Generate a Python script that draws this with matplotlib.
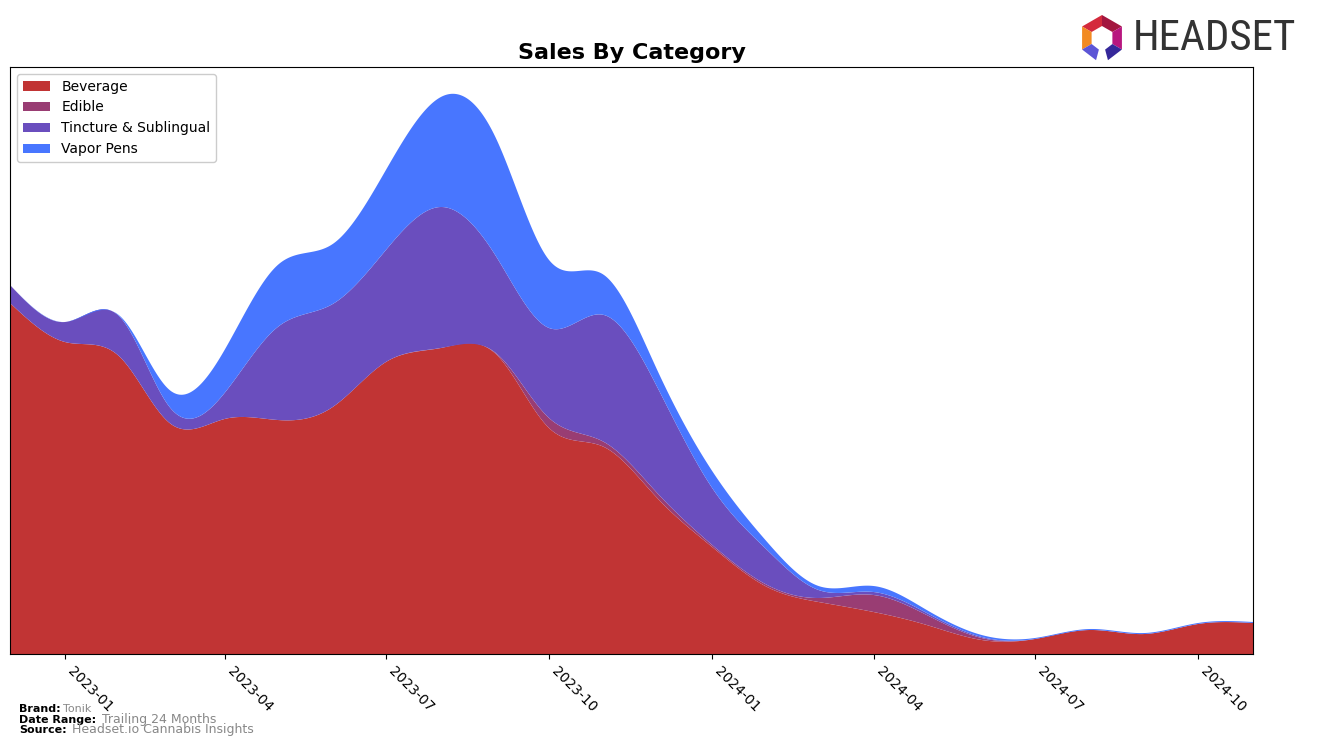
import numpy as np
import pandas as pd
import matplotlib
matplotlib.use("Agg")
import matplotlib.pyplot as plt
import matplotlib.dates as mdates
from matplotlib.patches import Polygon

# ---------------- data (monthly) ----------------
months = pd.date_range("2022-12-01", "2024-11-01", freq="MS")
categories = ["Beverage", "Edible", "Tincture & Sublingual", "Vapor Pens"]
beverage = [351, 312, 297, 231, 235, 234, 247, 292, 306, 300, 226, 207,
            156, 107, 67, 52, 42, 29, 14, 15, 24, 20, 30, 31]
edible = [0, 0, 0, 0, 0, 0, 0, 0, 0, 1, 10, 5,
          5, 2, 2, 4, 17, 10, 2, 0, 0, 0, 0, 0]
tincture = [18, 20, 40, 16, 26, 93, 103, 112, 141, 97, 90, 127,
            106, 57, 35, 8, 3, 2, 1, 0, 0, 0, 0, 0]
vapor = [0, 0, 1, 17, 43, 62, 60, 80, 110, 118, 68, 40,
         17, 17, 8, 4, 6, 3, 2, 1, 1, 1, 1, 1]
colors = ["#C13434", "#993D73", "#6A4EBE", "#4876FF"]
tick_dates = pd.date_range("2023-01-01", "2024-10-01", freq="3MS")


def natural_spline(x, y, xs):
    x = np.asarray(x, float)
    y = np.asarray(y, float)
    n = len(x)
    h = np.diff(x)
    A = np.zeros((n, n))
    b = np.zeros(n)
    A[0, 0] = 1
    A[-1, -1] = 1
    for i in range(1, n - 1):
        A[i, i - 1] = h[i - 1]
        A[i, i] = 2 * (h[i - 1] + h[i])
        A[i, i + 1] = h[i]
        b[i] = 3 * ((y[i + 1] - y[i]) / h[i] - (y[i] - y[i - 1]) / h[i - 1])
    c = np.linalg.solve(A, b)
    bb = np.zeros(n - 1)
    d = np.zeros(n - 1)
    for i in range(n - 1):
        bb[i] = (y[i + 1] - y[i]) / h[i] - h[i] * (2 * c[i] + c[i + 1]) / 3
        d[i] = (c[i + 1] - c[i]) / (3 * h[i])
    idx = np.clip(np.searchsorted(x, xs) - 1, 0, n - 2)
    dx = xs - x[idx]
    return y[idx] + bb[idx] * dx + c[idx] * dx ** 2 + d[idx] * dx ** 3


xnum = mdates.date2num(months.to_pydatetime())
xs = np.linspace(xnum[0], xnum[-1], 800)
series = [beverage, edible, tincture, vapor]
smooth = [natural_spline(xnum, s, xs) for s in series]

W, H = 1317, 747
fig = plt.figure(figsize=(W / 100, H / 100), dpi=100)
ax = fig.add_axes([10 / W, 1 - 654 / H, (1253 - 10) / W, (654 - 67) / H])

ax.stackplot(xs, *smooth, labels=categories, colors=colors)
ax.set_xlim(xnum[0], xnum[-1])
ax.set_ylim(0, 587)
ax.set_yticks([])
ax.set_xticks(mdates.date2num(tick_dates.to_pydatetime()))
ax.set_xticklabels([d.strftime("%Y-%m") for d in tick_dates],
                   rotation=-45, ha="left", fontsize=10)
ax.set_title("Sales By Category", fontsize=16, fontweight="bold", pad=6)
ax.legend(loc="upper left", fontsize=10, framealpha=1, edgecolor="#cccccc")

# ---------------- footer ----------------
def ftext(x, y, s, **kw):
    fig.text(x / W, 1 - y / H, s, va="center", ha="left", **kw)

ftext(19, 709, "Brand:", fontsize=8, fontweight="bold")
ftext(63, 709, "Tonik", fontsize=8, color="#888888")
ftext(19, 720, "Date Range:", fontsize=8, fontweight="bold")
ftext(102, 719, "Trailing 24 Months", fontsize=9, color="#888888")
ftext(19, 730, "Source:", fontsize=8, fontweight="bold")
ftext(72, 730, "Headset.io Cannabis Insights", fontsize=9, color="#888888")

# ---------------- logo ----------------
cx, cy, R, r = 1102, 38, 23, 12


def pt(rad, ang):
    a = np.deg2rad(ang)
    return (cx + rad * np.cos(a)) / W, 1 - (cy - rad * np.sin(a)) / H


faces = [(90, 150, "#D42A3C"), (30, 90, "#A3163F"), (150, 210, "#F28A22"),
         (-30, 30, "#B8167F"), (210, 255, "#5C55D6"), (285, 330, "#35289A")]
for a0, a1, col in faces:
    poly = [pt(R, a0), pt(R, a1), pt(r, a1), pt(r, a0)]
    fig.patches.append(Polygon(poly, closed=True, transform=fig.transFigure,
                               facecolor=col, edgecolor="none"))
fig.text(1133 / W, 1 - 38 / H, "HEADSET", fontsize=31, color="#333333",
         family=["Roboto Condensed", "Roboto", "DejaVu Sans"],
         va="center", ha="left")

fig.savefig("out.png", dpi=100)
